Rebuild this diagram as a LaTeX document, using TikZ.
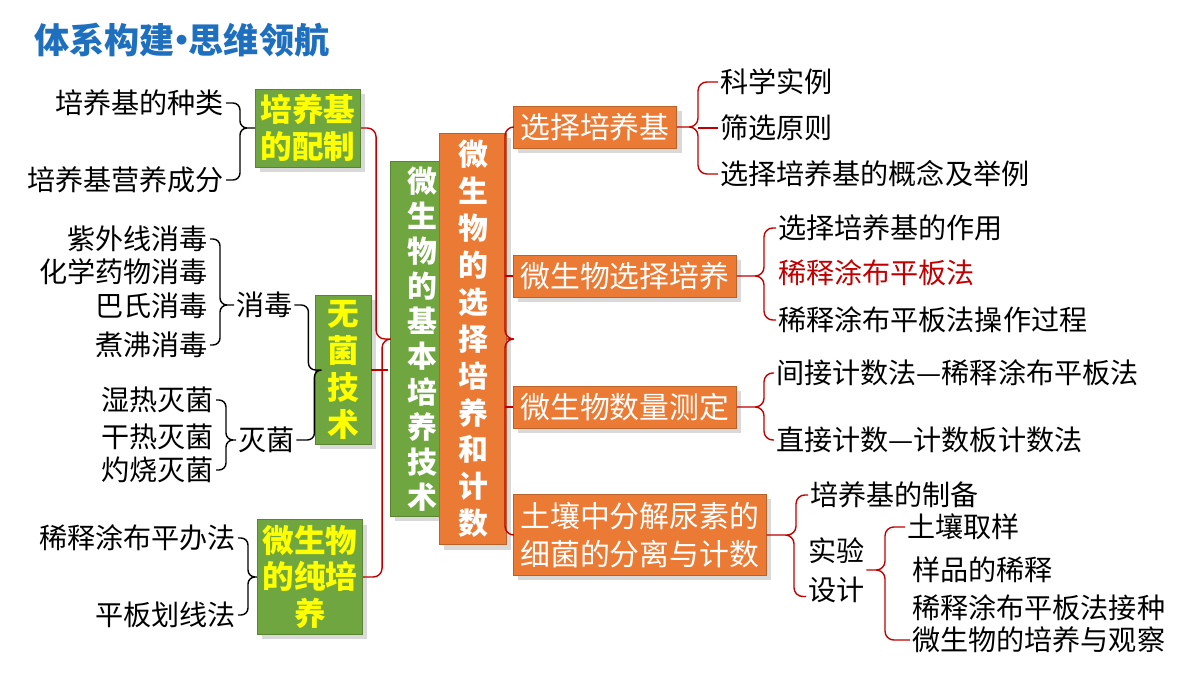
\documentclass[tikz,border=0pt]{standalone}
\usepackage{fontspec}
\setmainfont{Noto Sans CJK SC}
\usetikzlibrary{positioning, calc, shadows}
\definecolor{kuanglv}{HTML}{6FA640}
\definecolor{kuangcheng}{HTML}{EA7A34}
\definecolor{biaoti}{HTML}{1F6FBF}
\definecolor{zihuang}{HTML}{FFFF00}
\definecolor{xianhong}{HTML}{C00000}

\tikzset{
  lvkuang/.style={fill=kuanglv, draw=kuanglv!80!black, font=\fontsize{18}{21}\selectfont\bfseries, text=zihuang, align=center, inner sep=3pt, drop shadow={opacity=0.3}},
  chengkuang/.style={fill=kuangcheng, draw=kuangcheng!80!black, font=\fontsize{17}{22}\selectfont, text=white, align=center, inner sep=4pt, drop shadow={opacity=0.3}},
  ye/.style={font=\fontsize{16}{19}\selectfont, inner sep=1pt},
  hei/.style={thick, rounded corners=4pt},
  hong/.style={xianhong, thick, rounded corners=5pt}
}

\begin{document}
\begin{tikzpicture}[x=0.02cm, y=-0.02cm]
  \useasboundingbox (0,0) rectangle (1200,675);

  % Title
  \node[anchor=west, text=biaoti, font=\fontsize{20}{24}\selectfont\bfseries] (biaoti) at (28,40) {体系构建\kern-0.3em•\kern-0.3em思维领航};

  % Central columns
  \node[lvkuang, text=white, font=\fontsize{17}{20}\selectfont\bfseries, text width=30] (jiben) at (422,339) {微\\生\\物\\的\\基\\本\\培\\养\\技\\术};
  \node[chengkuang, font=\fontsize{17}{21}\selectfont\bfseries, text width=30] (xuanze) at (473,339) {微\\生\\物\\的\\选\\择\\培\\养\\和\\计\\数};

  % Left boxes
  \node[lvkuang] (peizhi) at (308,128) {培养基\\的配制};
  \node[lvkuang, text width=26] (wujun) at (343,370) {无\\菌\\技\\术};
  \node[lvkuang] (chunpei) at (310,577) {微生物\\的纯培\\养};

  % Right boxes
  \node[chengkuang, anchor=west] (xzpyj) at (513,127) {选择培养基};
  \node[chengkuang, anchor=west] (xzpy) at (513,276) {微生物选择培养};
  \node[chengkuang, anchor=west] (slcd) at (513,407) {微生物数量测定};
  \node[chengkuang, anchor=west] (turang) at (513,535) {土壤中分解尿素的\\细菌的分离与计数};

  % Left leaves
  \node[ye, anchor=east] (zhonglei) at (226,103) {培养基的种类};
  \node[ye, anchor=east] (chengfen) at (226,180) {培养基营养成分};
  \node[ye, anchor=east] (ziwai) at (210,239) {紫外线消毒};
  \node[ye, anchor=east] (huaxue) at (210,272) {化学药物消毒};
  \node[ye, anchor=east] (bashi) at (210,306) {巴氏消毒};
  \node[ye, anchor=east] (zhufei) at (210,345) {煮沸消毒};
  \node[ye, anchor=west] (xiaodu) at (234,305) {消毒};
  \node[ye, anchor=east] (shire) at (216,400) {湿热灭菌};
  \node[ye, anchor=east] (ganre) at (216,437) {干热灭菌};
  \node[ye, anchor=east] (zhuoshao) at (216,470) {灼烧灭菌};
  \node[ye, anchor=west] (miejun) at (236,440) {灭菌};
  \node[ye, anchor=east] (tubu) at (238,538) {稀释涂布平办法};
  \node[ye, anchor=east] (huaxian) at (238,615) {平板划线法};

  % Right leaves
  \node[ye, anchor=west] (shili) at (718,82) {科学实例};
  \node[ye, anchor=west] (yuanze) at (718,128) {筛选原则};
  \node[ye, anchor=west] (gainian) at (718,174) {选择培养基的概念及举例};
  \node[ye, anchor=west] (zuoyong) at (776,228) {选择培养基的作用};
  \node[ye, anchor=west, text=xianhong] (tbpb) at (776,273) {稀释涂布平板法};
  \node[ye, anchor=west] (guocheng) at (776,320) {稀释涂布平板法操作过程};
  \node[ye, anchor=west] (jianjie) at (774,373) {间接计数法—稀释涂布平板法};
  \node[ye, anchor=west] (zhijie) at (774,440) {直接计数—计数板计数法};
  \node[ye, anchor=west] (zhibei) at (808,495) {培养基的制备};
  \node[ye, anchor=west, align=left, font=\fontsize{16}{22}\selectfont] (sheji) at (806,570) {实验\\设计};
  \node[ye, anchor=west] (quyang) at (905,527) {土壤取样};
  \node[ye, anchor=west] (xishi) at (910,570) {样品的稀释};
  \node[ye, anchor=west] (jiezhong) at (910,608) {稀释涂布平板法接种};
  \node[ye, anchor=west] (guancha) at (910,640) {微生物的培养与观察};

  % Black braces
  \draw[hei] (zhonglei.east) -- ++(14,0) |- (peizhi.west) (chengfen.east) -- ++(14,0) |- (peizhi.west);
  \draw[hei] (ziwai.east) -- ++(10,0) |- (xiaodu.west) (zhufei.east) -- ++(10,0) |- (xiaodu.west);
  \draw[hei] (shire.east) -- ++(10,0) |- (miejun.west) (zhuoshao.east) -- ++(10,0) |- (miejun.west);
  \draw[hei] (xiaodu.east) -- ++(14,0) |- (wujun.west) (miejun.east) -- ++(18,0) |- (wujun.west);
  \draw[hei] (tubu.east) -- ++(10,0) |- (chunpei.west) (huaxian.east) -- ++(10,0) |- (chunpei.west);

  % Red braces
  \draw[hong] (peizhi.east) -- ++(15,0) |- (jiben.west) (chunpei.east) -- ++(19,0) |- (jiben.west);
  \draw[hong] (wujun.east) -- ++(17,0);
  \draw[hong] (xzpyj.west) -- ++(-8,0) |- (xuanze.east) (turang.west) -- ++(-8,0) |- (xuanze.east);
  \draw[hong] (xzpy.west) -- ++(-8,0) (slcd.west) -- ++(-8,0);
  \draw[hong] (shili.west) -- ++(-20,0) |- (xzpyj.east) (gainian.west) -- ++(-20,0) |- (xzpyj.east);
  \draw[hong] (yuanze.west) -- ++(-20,0);
  \draw[hong] (zuoyong.west) -- ++(-12,0) |- (xzpy.east) (guocheng.west) -- ++(-12,0) |- (xzpy.east);
  \draw[hong] (jianjie.west) -- ++(-10,0) |- (slcd.east) (zhijie.west) -- ++(-10,0) |- (slcd.east);
  \draw[hong] (zhibei.west) -- ++(-12,0) |- (turang.east) (sheji.south west) ++(0,-8) -- ++(-12,0) |- (turang.east);
  \draw[hong] (quyang.west) -- ++(-20,0) |- (sheji.east) (guancha.west) -- ++(-25,0) |- (sheji.east);

\end{tikzpicture}
\end{document}
